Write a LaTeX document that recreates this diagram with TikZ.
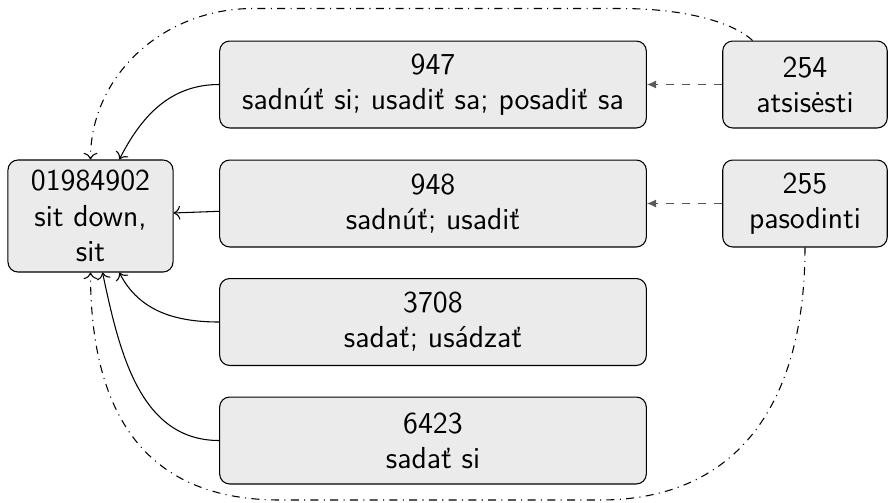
\documentclass[tikz,border=0pt]{standalone}
\usepackage{fontspec}
\usetikzlibrary{arrows.meta}
\begin{document}
\begin{tikzpicture}[x=0.375pt, y=-0.375pt,
  box/.style={draw, rounded corners=3.75pt, fill=black!8, align=center,
    font=\sffamily\fontsize{11.4}{13.2}\selectfont, inner sep=0pt},
  leftbox/.style={box, minimum width=61.9pt, minimum height=42pt},
  midbox/.style={box, minimum width=160pt, minimum height=32.6pt},
  rightbox/.style={box, minimum width=61.7pt, minimum height=32.6pt},
  solidarrow/.style={->},
  transarrow/.style={dashed, black!65, -{Latex[length=3.5pt,width=3pt]}},
  linkarrow/.style={dash dot, ->}
]
\useasboundingbox (0,0) rectangle (888,502);

\node[leftbox] (L) at (90.5,216) {01984902\\sit down,\\sit};
\node[midbox] (A) at (433,84.5) {947\\sadnúť si; usadiť sa; posadiť sa};
\node[midbox] (B) at (433,203.5) {948\\sadnúť; usadiť};
\node[midbox] (C) at (433,322) {3708\\sadať; usádzať};
\node[midbox] (D) at (433,440.5) {6423\\sadať si};
\node[rightbox] (R1) at (805,84.5) {254\\atsisėsti};
\node[rightbox] (R2) at (805,203.5) {255\\pasodinti};

\draw[solidarrow] (A) to[out=180,in=63] (L);
\draw[solidarrow] (B) -- (L);
\draw[solidarrow] (C) to[out=180,in=-63] (L);
\draw[solidarrow] (D) to[out=180,in=-78] (L);

\draw[transarrow] (R1) -- (A);
\draw[transarrow] (R2) -- (B);

\draw[linkarrow] (R1.140) .. controls (735,24) and (690,8.5) .. (620,8.5)
  -- (253,8.5) .. controls (163,8.5) and (90.5,76) .. (L.north);
\draw[linkarrow] (R2.south) .. controls (805,400) and (740,500) .. (600,500)
  -- (280,500) .. controls (150,500) and (90.5,420) .. (L.south);
\end{tikzpicture}
\end{document}
